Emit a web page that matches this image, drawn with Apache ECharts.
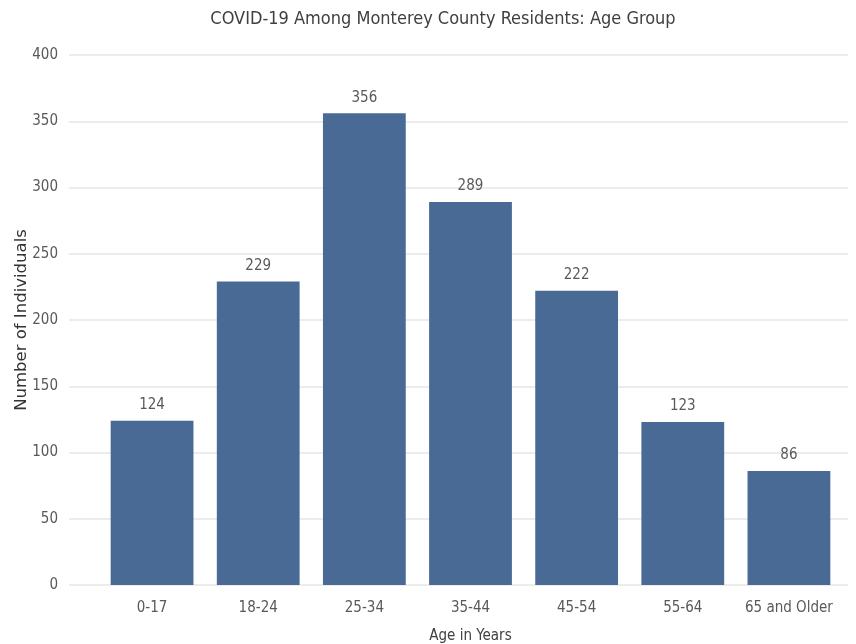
<!DOCTYPE html>
<html><head><meta charset="utf-8">
<script src="https://cdn.jsdelivr.net/npm/echarts@6/dist/echarts.min.js"></script>
<style>html,body{margin:0;padding:0;background:#fff}#c{width:856px;height:644px}</style>
</head><body><div id="c"></div>
<script>
var categories = ["0-17","18-24","25-34","35-44","45-54","55-64","65 and Older"];
var cases = [124,229,356,289,222,123,86];
var yTicks = [0,50,100,150,200,250,300,350,400];

var FONT = "'Liberation Sans Narrow','DejaVu Sans Condensed',Lato,sans-serif";
var chart = echarts.init(document.getElementById('c'));
chart.setOption({
  animation:false,
  title:{text:"COVID-19 Among Monterey County Residents: Age Group", left:438, top:5, textAlign:'center',
    textStyle:{fontFamily:FONT,fontSize:18,fontWeight:'normal',color:'#404040'}},
  grid:[{left:69,right:8,top:55,bottom:59,outerBoundsMode:'none',containLabel:false},
        {left:99,right:14,top:55,bottom:59,outerBoundsMode:'none',containLabel:false}],
  xAxis:[
    {gridIndex:0,type:'category',data:categories,show:false},
    {gridIndex:1,type:'category',data:categories,axisLine:{show:false},axisTick:{show:false},
      axisLabel:{interval:0,fontFamily:FONT,fontSize:15,color:'#595959',margin:16},
      name:'Age in Years',nameLocation:'middle',nameGap:44,nameMoveOverlap:false,
      nameTextStyle:{fontFamily:FONT,fontSize:15,color:'#404040'}}
  ],
  yAxis:[
    {gridIndex:0,type:'value',min:yTicks[0],max:yTicks[yTicks.length-1],interval:50,
      axisLine:{show:false},axisTick:{show:false},
      axisLabel:{fontFamily:FONT,fontSize:15,color:'#595959',margin:11},
      splitLine:{lineStyle:{color:'#e6e6e6',width:1.5}},
      name:'Number of Individuals',nameLocation:'middle',nameGap:39,nameMoveOverlap:false,
      nameTextStyle:{fontFamily:"'DejaVu Sans',Verdana,sans-serif",fontSize:16.5,color:'#333'}},
    {gridIndex:1,type:'value',min:0,max:400,interval:50,show:false}
  ],
  series:[{type:'bar',xAxisIndex:1,yAxisIndex:1,data:cases,barCategoryGap:'22%',
    itemStyle:{color:'#4a6a96'},
    label:{show:true,position:'top',distance:8,fontFamily:FONT,fontSize:15,color:'#595959'}}]
});
</script></body></html>
